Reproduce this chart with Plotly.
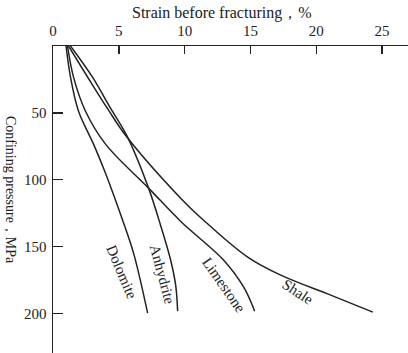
import plotly.graph_objects as go

# Confining pressure (MPa) vs strain before fracturing (%)
dolomite_y = [0, 23.3, 48.8, 73.4, 95.1, 115.3, 130.3, 154.9, 199.8]
dolomite_x = [0.99, 1.33, 1.94, 3.08, 3.99, 4.75, 5.29, 6.12, 7.19]

anhydrite_y = [0, 23.3, 46.5, 66.7, 106.3, 134.0, 160.2, 178.9, 198.3]
anhydrite_x = [1.33, 3.00, 4.37, 5.59, 7.26, 8.17, 8.94, 9.32, 9.47]

limestone_y = [0, 23.3, 48.8, 73.4, 106.3, 131.8, 160.2, 180.4, 198.3]
limestone_x = [1.10, 1.56, 2.47, 3.99, 7.26, 9.77, 12.97, 14.49, 15.32]

shale_y = [0, 25.6, 48.0, 66.7, 113.8, 130.3, 157.9, 171.4, 186.3, 199.0]
shale_x = [1.18, 2.78, 4.22, 5.51, 9.70, 11.44, 14.79, 17.30, 21.10, 24.30]

x_ticks = [0, 5, 10, 15, 20, 25]
y_ticks = [50, 100, 150, 200]

labels = ["Dolomite", "Anhydrite", "Limestone", "Shale"]
label_x = [5.21, 8.29, 12.97, 18.6]
label_y = [169.1, 170.6, 178.8, 184.0]
label_angle = [67, 75, 55, 33]

FONT = "Liberation Serif, Times New Roman, serif"
INK = "#222222"

fig = go.Figure()
for xs, ys in [(dolomite_x, dolomite_y), (anhydrite_x, anhydrite_y),
               (limestone_x, limestone_y), (shale_x, shale_y)]:
    fig.add_trace(go.Scatter(x=xs, y=ys, mode="lines",
                             line=dict(color=INK, width=1.5, shape="spline", smoothing=1.0),
                             showlegend=False, hoverinfo="skip"))

for t, lx, ly, ang in zip(labels, label_x, label_y, label_angle):
    fig.add_annotation(x=lx, y=ly, text=t, textangle=ang, showarrow=False,
                       xanchor="center", yanchor="middle",
                       font=dict(family=FONT, size=15, color=INK))

fig.add_annotation(xref="paper", yref="paper", x=0.476, y=1.1075,
                   xanchor="center", yanchor="middle",
                   text="Strain before fracturing，%", showarrow=False,
                   font=dict(family=FONT, size=16, color=INK))
fig.add_annotation(xref="paper", yref="paper", x=-0.121, y=0.531,
                   xanchor="center", yanchor="middle",
                   text="Confining pressure，MPa", textangle=90, showarrow=False,
                   font=dict(family=FONT, size=14, color=INK))

fig.update_layout(
    width=408, height=353,
    margin=dict(l=53, r=0, t=46, b=0, autoexpand=False),
    paper_bgcolor="white", plot_bgcolor="white",
    font=dict(family=FONT, size=15, color=INK),
)
fig.update_xaxes(range=[0, 26.97], side="top", tickvals=x_ticks,
                 ticktext=[str(v) for v in x_ticks], automargin=False,
                 showline=True, linecolor=INK, linewidth=1.5,
                 ticks="inside", ticklen=8, tickwidth=1.5, tickcolor=INK,
                 showgrid=False, zeroline=False, ticklabelstandoff=3)
fig.update_yaxes(range=[229.6, 0], tickvals=y_ticks,
                 ticktext=[str(v) for v in y_ticks], automargin=False,
                 showline=True, linecolor=INK, linewidth=1.5,
                 ticks="inside", ticklen=10, tickwidth=1.5, tickcolor=INK,
                 showgrid=False, zeroline=False, ticklabelstandoff=2)

fig.write_html("out.html", config=dict(displayModeBar=False, staticPlot=True),
               post_script="document.body.style.margin='0';document.body.style.overflow='hidden';")
